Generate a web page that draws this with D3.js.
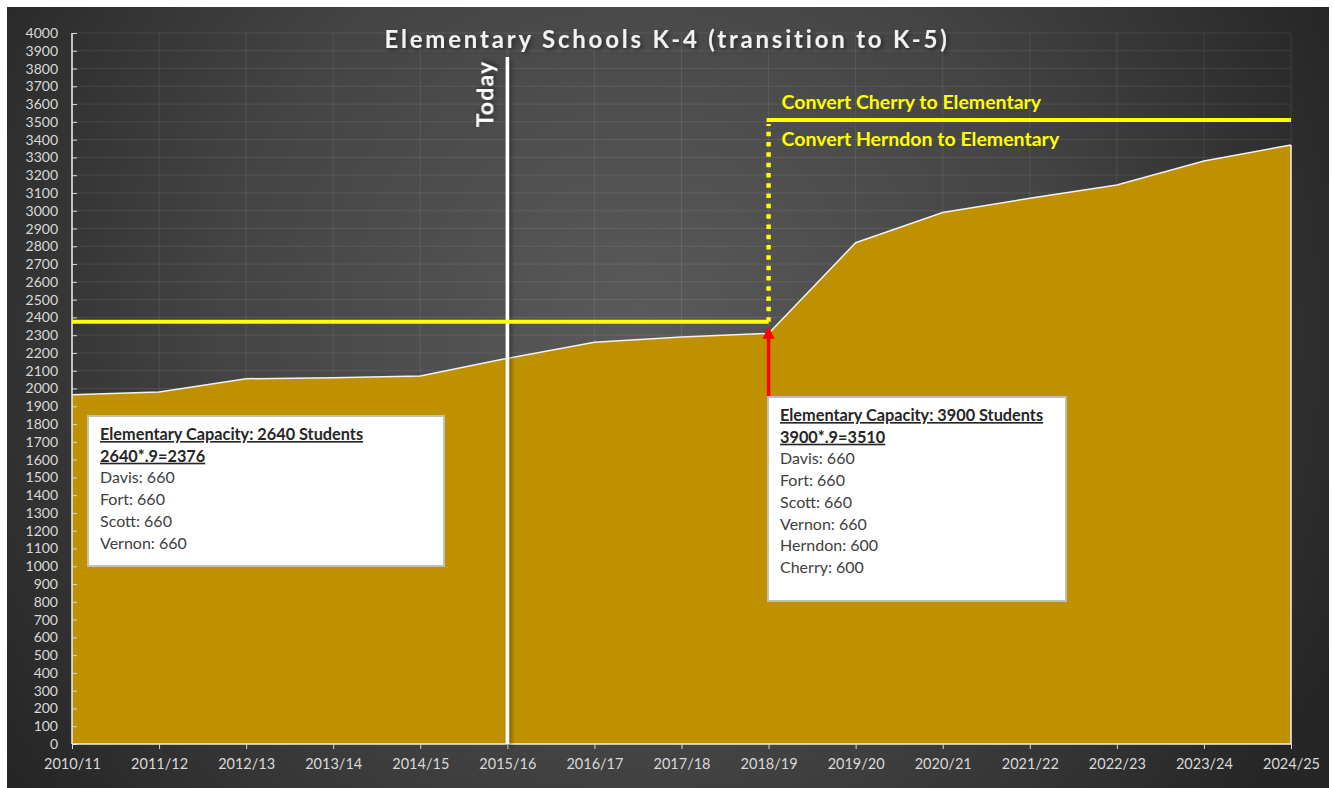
<!DOCTYPE html>
<html>
<head>
<meta charset="utf-8">
<script src="https://cdn.jsdelivr.net/npm/d3@7"></script>
<style>
  html, body { margin: 0; padding: 0; background: #ffffff; }
  svg { display: block; }
  text { font-family: Lato, "Open Sans", sans-serif; }
</style>
</head>
<body>
<script>
// Enrollment projection, elementary schools
const years = ["2010/11","2011/12","2012/13","2013/14","2014/15","2015/16","2016/17","2017/18",
               "2018/19","2019/20","2020/21","2021/22","2022/23","2023/24","2024/25"];
const enrollment = [1965, 1980, 2055, 2060, 2070, 2170, 2260, 2290, 2310, 2820, 2990, 3070, 3145, 3280, 3370];
const yTicks = d3.range(0, 4001, 100);

// Capacity thresholds (90% of seats)
const capacityNow = 2376;
const capacityLater = 3510;
const conversionYear = "2018/19";
const todayYear = "2015/16";
const arrowFrom = 1945;

const boxCurrent = {
  head: ["Elementary Capacity: 2640 Students", "2640*.9=2376"],
  rows: ["Davis: 660", "Fort: 660", "Scott: 660", "Vernon: 660"]
};
const boxFuture = {
  head: ["Elementary Capacity: 3900 Students", "3900*.9=3510"],
  rows: ["Davis: 660", "Fort: 660", "Scott: 660", "Vernon: 660", "Herndon: 600", "Cherry: 600"]
};

const W = 1333, H = 788;
const plot = { left: 72, right: 1291, top: 33, bottom: 744 };

const svg = d3.select("body").append("svg").attr("width", W).attr("height", H);
const defs = svg.append("defs");

const bg = defs.append("radialGradient").attr("id", "bg")
  .attr("gradientUnits", "userSpaceOnUse")
  .attr("cx", 640).attr("cy", 330).attr("r", 760);
bg.append("stop").attr("offset", "0%").attr("stop-color", "#5a5a5a");
bg.append("stop").attr("offset", "55%").attr("stop-color", "#444444");
bg.append("stop").attr("offset", "100%").attr("stop-color", "#262626");

// shadow for thin lines (bbox has zero width, so use page units)
const lineShadow = defs.append("filter").attr("id", "lineShadow")
  .attr("filterUnits", "userSpaceOnUse")
  .attr("x", 0).attr("y", 0).attr("width", W).attr("height", H);
lineShadow.append("feDropShadow").attr("dx", 2).attr("dy", 2).attr("stdDeviation", 2)
  .attr("flood-color", "#000").attr("flood-opacity", 0.45);

// shadow for text
const textShadow = defs.append("filter").attr("id", "textShadow")
  .attr("x", "-20%").attr("y", "-30%").attr("width", "140%").attr("height", "160%");
textShadow.append("feDropShadow").attr("dx", 2).attr("dy", 2).attr("stdDeviation", 2)
  .attr("flood-color", "#000").attr("flood-opacity", 0.45);

defs.append("marker").attr("id", "arrowhead")
  .attr("viewBox", "0 0 10 10").attr("refX", 5).attr("refY", 5)
  .attr("markerWidth", 3.5).attr("markerHeight", 3.5)
  .attr("markerUnits", "strokeWidth")
  .attr("orient", "auto")
  .append("path").attr("d", "M0,0 L10,5 L0,10 Z").attr("fill", "#ff0000");

svg.append("rect").attr("x", 7).attr("y", 7).attr("width", 1322).attr("height", 781)
  .attr("fill", "url(#bg)");

const x = d3.scalePoint().domain(years).range([plot.left, plot.right]);
const y = d3.scaleLinear().domain([0, 4000]).range([plot.bottom, plot.top]);

// Gridlines
const grid = svg.append("g");
grid.selectAll("line.h").data(yTicks.filter(d => d > 0)).join("line")
  .attr("x1", plot.left).attr("x2", plot.right)
  .attr("y1", d => y(d)).attr("y2", d => y(d))
  .attr("stroke", "#ffffff").attr("stroke-opacity", 0.09).attr("stroke-width", 1);
grid.selectAll("line.v").data(years.slice(1)).join("line")
  .attr("x1", d => x(d)).attr("x2", d => x(d))
  .attr("y1", plot.top).attr("y2", plot.bottom)
  .attr("stroke", "#ffffff").attr("stroke-opacity", 0.09).attr("stroke-width", 1);

// Area
const area = d3.area().x((d, i) => x(years[i])).y0(y(0)).y1(d => y(d));
const line = d3.line().x((d, i) => x(years[i])).y(d => y(d));
svg.append("path").datum(enrollment).attr("d", area).attr("fill", "#bf9000");
svg.append("path").datum(enrollment).attr("d", line)
  .attr("fill", "none").attr("stroke", "#f2f2f2").attr("stroke-width", 1.5);
// right edge of the area
svg.append("line")
  .attr("x1", x(years[years.length - 1])).attr("x2", x(years[years.length - 1]))
  .attr("y1", y(enrollment[enrollment.length - 1])).attr("y2", y(0))
  .attr("stroke", "#f2f2f2").attr("stroke-width", 1.5);

// Axes
const yAxis = svg.append("g").attr("transform", `translate(${plot.left},0)`)
  .call(d3.axisRight(y).tickValues(yTicks).tickSize(5).tickFormat(d3.format("d")));
yAxis.select(".domain").attr("stroke", "#f2f2f2").attr("stroke-width", 1.5)
  .attr("d", `M0,${plot.top}V${plot.bottom}`);
yAxis.selectAll(".tick line").attr("stroke", "#d9d9d9");
yAxis.selectAll(".tick text").attr("x", -14).attr("text-anchor", "end")
  .attr("fill", "#d9d9d9").attr("font-size", 14);

const xAxis = svg.append("g").attr("transform", `translate(0,${plot.bottom})`)
  .call(d3.axisBottom(x).tickSize(5));
xAxis.select(".domain").attr("stroke", "#f2f2f2").attr("stroke-width", 1.5)
  .attr("d", `M${plot.left},0H${plot.right}`);
xAxis.selectAll(".tick line").attr("stroke", "#d9d9d9");
xAxis.selectAll(".tick text").attr("y", 15).attr("fill", "#d9d9d9").attr("font-size", 14.5);

// Today marker
const tx = x(todayYear);
svg.append("line").attr("x1", tx).attr("x2", tx).attr("y1", 57).attr("y2", plot.bottom)
  .attr("stroke", "#ffffff").attr("stroke-width", 3.5).attr("filter", "url(#lineShadow)");
svg.append("text").attr("transform", `translate(${tx - 14},94) rotate(-90)`)
  .attr("text-anchor", "middle").attr("fill", "#ffffff").attr("font-weight", 700)
  .attr("font-size", 23).attr("letter-spacing", 1.2).attr("filter", "url(#textShadow)").text("Today");

// Capacity lines
const cx = x(conversionYear);
svg.append("line").attr("x1", plot.left).attr("x2", cx)
  .attr("y1", y(capacityNow)).attr("y2", y(capacityNow))
  .attr("stroke", "#ffff00").attr("stroke-width", 4);
svg.append("line").attr("x1", cx).attr("x2", cx)
  .attr("y1", y(capacityNow)).attr("y2", y(capacityLater) + 4)
  .attr("stroke", "#ffff00").attr("stroke-width", 4.5).attr("stroke-dasharray", "4.5,5.8");
svg.append("line").attr("x1", cx - 2).attr("x2", plot.right)
  .attr("y1", y(capacityLater)).attr("y2", y(capacityLater))
  .attr("stroke", "#ffff00").attr("stroke-width", 4);

svg.append("text").attr("x", cx + 13).attr("y", y(capacityLater) - 11)
  .attr("fill", "#ffff00").attr("font-weight", 700).attr("font-size", 19.5)
  .text("Convert Cherry to Elementary");
svg.append("text").attr("x", cx + 13).attr("y", y(capacityLater) + 26)
  .attr("fill", "#ffff00").attr("font-weight", 700).attr("font-size", 19.5)
  .text("Convert Herndon to Elementary");

// Red arrow toward the capacity line
svg.append("line").attr("x1", cx).attr("x2", cx)
  .attr("y1", y(arrowFrom)).attr("y2", y(capacityNow) + 11)
  .attr("stroke", "#ff0000").attr("stroke-width", 3.5)
  .attr("marker-end", "url(#arrowhead)");

// Annotation boxes
function infoBox(bx, by, bw, bh, info) {
  const g = svg.append("g");
  g.append("rect").attr("x", bx).attr("y", by).attr("width", bw).attr("height", bh)
    .attr("fill", "#ffffff").attr("stroke", "#bfbfbf").attr("stroke-width", 2);
  const lh = 21.7;
  info.head.forEach((t, i) => {
    g.append("text").attr("x", bx + 12).attr("y", by + 24 + i * lh)
      .attr("fill", "#262626").attr("font-weight", 700).attr("font-size", 16.3)
      .attr("text-decoration", "underline").text(t);
  });
  info.rows.forEach((t, i) => {
    g.append("text").attr("x", bx + 12).attr("y", by + 24 + (i + info.head.length) * lh)
      .attr("fill", "#404040").attr("font-size", 16).text(t);
  });
}
infoBox(88, 416, 356, 150, boxCurrent);
infoBox(768, 397, 298, 204, boxFuture);

// Title
svg.append("text").attr("x", 667).attr("y", 48).attr("text-anchor", "middle")
  .attr("fill", "#f2f2f2").attr("font-weight", 700).attr("font-size", 24)
  .attr("letter-spacing", 2.8).attr("filter", "url(#textShadow)")
  .text("Elementary Schools K-4 (transition to K-5)");
</script>
</body>
</html>
